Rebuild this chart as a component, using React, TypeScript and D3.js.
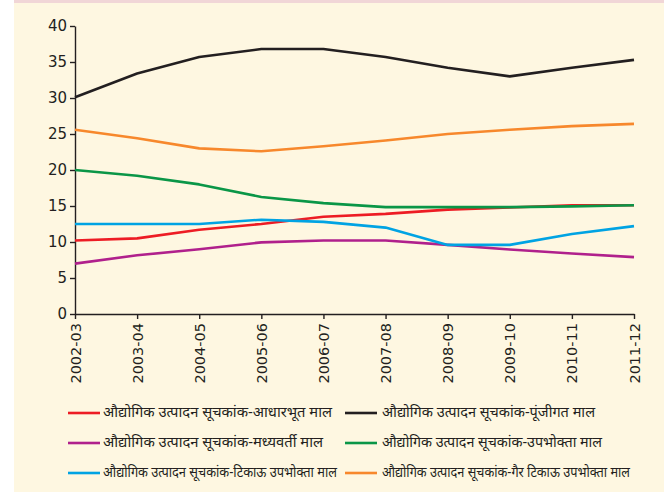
import React, { useEffect, useRef } from 'react';
import * as d3 from 'd3';

// financial years on the x axis
const years = ['2002-03', '2003-04', '2004-05', '2005-06', '2006-07', '2007-08', '2008-09', '2009-10', '2010-11', '2011-12'];
const yTicks = [0, 5, 10, 15, 20, 25, 30, 35, 40];

// index of industrial production shares
const basicGoods = [10.2, 10.5, 11.7, 12.5, 13.5, 13.9, 14.5, 14.8, 15.1, 15.1];
const capitalGoods = [30.1, 33.4, 35.7, 36.8, 36.8, 35.7, 34.2, 33.0, 34.2, 35.3];
const intermediateGoods = [7.0, 8.15, 9.0, 9.95, 10.2, 10.2, 9.6, 8.95, 8.4, 7.9];
const consumerGoods = [20.0, 19.2, 18.0, 16.25, 15.4, 14.85, 14.85, 14.85, 14.95, 15.1];
const durables = [12.5, 12.5, 12.5, 13.1, 12.8, 12.0, 9.6, 9.6, 11.1, 12.2];
const nonDurables = [25.6, 24.4, 23.0, 22.6, 23.3, 24.1, 25.0, 25.6, 26.1, 26.4];

const seriesNames = [
  'औद्योगिक उत्पादन सूचकांक-आधारभूत माल',
  'औद्योगिक उत्पादन सूचकांक-पूंजीगत माल',
  'औद्योगिक उत्पादन सूचकांक-मध्यवर्ती माल',
  'औद्योगिक उत्पादन सूचकांक-उपभोक्ता माल',
  'औद्योगिक उत्पादन सूचकांक-टिकाऊ उपभोक्ता माल',
  'औद्योगिक उत्पादन सूचकांक-गैर टिकाऊ उपभोक्ता माल',
];
const seriesValues = [basicGoods, capitalGoods, intermediateGoods, consumerGoods, durables, nonDurables];
const colors = ['#ED1C24', '#231F20', '#B0208C', '#0A9647', '#00A3E3', '#F7882C'];

const W = 664;
const H = 492;
const margin = { top: 26, right: 30, bottom: 178, left: 75 };
const ink = '#231F20';
// the original legend uses a condensed devanagari face, so fit text to its widths
const legendTextWidth = [229, 213, 220, 220, 234, 248];

export default function App() {
  const ref = useRef<SVGSVGElement>(null);

  useEffect(() => {
    const svg = d3.select(ref.current);
    svg.selectAll('*').remove();

    // page background
    svg.append('rect').attr('width', W).attr('height', H).attr('fill', '#ffffff');
    svg.append('rect').attr('x', 14).attr('y', 0).attr('width', W - 14).attr('height', H).attr('fill', '#FEF7E1');
    svg.append('rect').attr('x', 14).attr('y', 0).attr('width', W - 14).attr('height', 3).attr('fill', '#F1D6D7');

    const x = d3.scalePoint<string>().domain(years).range([margin.left, W - margin.right]);
    const y = d3.scaleLinear().domain([0, 40]).range([H - margin.bottom, margin.top]);

    const yAxis = svg.append('g')
      .attr('transform', `translate(${margin.left},0)`)
      .call(d3.axisLeft(y).tickValues(yTicks).tickSize(5).tickSizeOuter(0).tickPadding(3));
    yAxis.selectAll('text')
      .attr('font-family', '"DejaVu Sans", Verdana, sans-serif')
      .attr('font-size', 15)
      .attr('fill', ink);

    const xAxis = svg.append('g')
      .attr('transform', `translate(0,${H - margin.bottom})`)
      .call(d3.axisBottom(x).tickSize(5).tickSizeOuter(0));
    xAxis.selectAll('text')
      .attr('font-family', '"DejaVu Sans", Verdana, sans-serif')
      .attr('font-size', 14.5)
      .attr('fill', ink)
      .attr('transform', 'rotate(-90)')
      .attr('text-anchor', 'end')
      .attr('x', -9)
      .attr('y', 0)
      .attr('dy', '0.35em');

    svg.selectAll('.domain, .tick line').attr('stroke', ink).attr('stroke-width', 1.4);

    const line = d3.line<number>()
      .x((_, i) => x(years[i]) as number)
      .y(d => y(d));

    svg.append('g')
      .selectAll('path')
      .data(seriesValues)
      .enter()
      .append('path')
      .attr('d', d => line(d))
      .attr('fill', 'none')
      .attr('stroke', (_, i) => colors[i])
      .attr('stroke-width', 2.6)
      .attr('stroke-linejoin', 'round');

    // legend, two columns by three rows
    const legend = svg.append('g')
      .selectAll('g')
      .data(seriesNames)
      .enter()
      .append('g')
      .attr('transform', (_, i) => `translate(${i % 2 === 0 ? 68 : 345},${413 + Math.floor(i / 2) * 30})`);
    legend.append('line')
      .attr('x1', 0).attr('x2', 32)
      .attr('stroke', (_, i) => colors[i])
      .attr('stroke-width', 2.6);
    legend.append('text')
      .attr('x', (_, i) => (i % 2 === 0 ? 35 : 37))
      .attr('dy', '0.32em')
      .attr('font-family', '"Noto Sans", sans-serif')
      .attr('font-size', 14)
      .attr('fill', ink)
      .attr('textLength', (_, i) => legendTextWidth[i])
      .attr('lengthAdjust', 'spacingAndGlyphs')
      .text(d => d);
  }, []);

  return <svg ref={ref} width={W} height={H} style={{ position: 'absolute', left: 0, top: 0 }} />;
}
